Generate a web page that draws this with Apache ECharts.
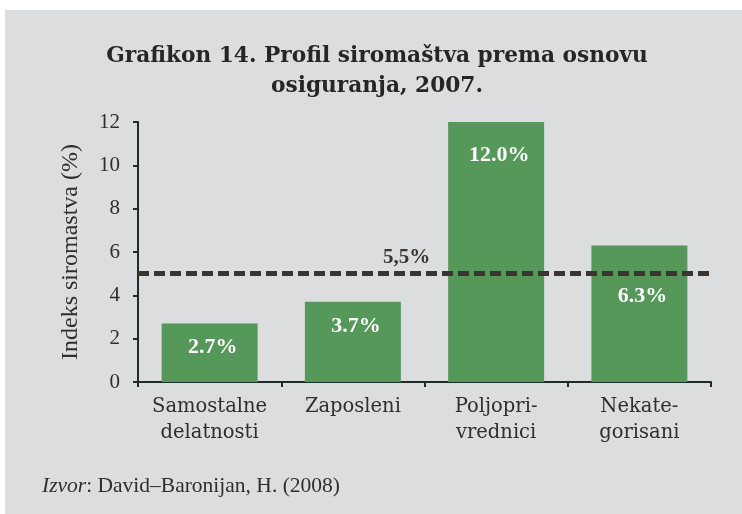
<!DOCTYPE html>
<html>
<head>
<meta charset="utf-8">
<script src="https://cdn.jsdelivr.net/npm/echarts@6/dist/echarts.min.js"></script>
<style>
html,body{margin:0;padding:0;background:#ffffff;}
#chart{width:742px;height:514px;}
</style>
</head>
<body>
<div id="chart"></div>
<script>
const categories = ['Samostalne\ndelatnosti', 'Zaposleni', 'Poljopri-\nvrednici', 'Nekate-\ngorisani'];
const values = [2.7, 3.7, 12.0, 6.3];
const valueLabels = ['2.7%', '3.7%', '12.0%', '6.3%'];
const referenceValue = 5.0;
const referenceLabel = '5,5%';
const yTicks = [0, 2, 4, 6, 8, 10, 12];
const titleText = 'Grafikon 14. Profil siromaštva prema osnovu\nosiguranja, 2007.';
const yAxisName = 'Indeks siromastva (%)';

const labelDistance = [13, 13, 22, 40];
const dark = '#2b2f2e';
const serif = 'DejaVu Serif';
const times = 'Liberation Serif';

const chart = echarts.init(document.getElementById('chart'));
chart.setOption({
  backgroundColor: '#ffffff',
  animation: false,
  graphic: [
    { type: 'rect', z: -100, shape: { x: 5, y: 10, width: 737, height: 504 }, style: { fill: '#dcdddf' } },
    { type: 'text', left: 42, top: 475, style: {
        rich: { i: { fontFamily: times, fontStyle: 'italic', fontSize: 21.5, fill: dark },
                n: { fontFamily: times, fontSize: 21.5, fill: dark } },
        text: '{i|Izvor}{n|: David–Baronijan, H. (2008)}' } }
  ],
  title: {
    text: titleText,
    left: 372, top: 36, textAlign: 'center',
    textStyle: { fontFamily: serif, fontWeight: 'bold', fontSize: 21.7, lineHeight: 30, color: '#262626' }
  },
  grid: { left: 138, right: 31, top: 122, bottom: 132 },
  xAxis: {
    type: 'category',
    data: categories,
    axisLine: { lineStyle: { color: '#1f2a2a', width: 2 } },
    axisTick: { show: true, interval: 0, length: 5, lineStyle: { color: '#1f2a2a', width: 2 } },
    axisLabel: { interval: 0, margin: 12, fontFamily: serif, fontSize: 19.5, lineHeight: 26, color: dark }
  },
  yAxis: {
    type: 'value',
    min: yTicks[0], max: yTicks[yTicks.length - 1], interval: 2,
    name: yAxisName, nameLocation: 'middle', nameGap: 55, nameRotate: 90,
    nameTextStyle: { fontFamily: times, fontSize: 24, color: dark },
    splitLine: { show: false },
    axisLine: { show: true, lineStyle: { color: '#1f2a2a', width: 2 } },
    axisTick: { show: true, length: 5, lineStyle: { color: '#1f2a2a', width: 2 } },
    axisLabel: { margin: 18, fontFamily: times, fontSize: 21, color: dark }
  },
  series: [{
    type: 'bar',
    barWidth: '67%',
    itemStyle: { color: '#55985a' },
    data: values.map((v, i) => ({
      value: v,
      label: { show: true, position: 'insideTop', distance: labelDistance[i], offset: [3, 0],
        formatter: valueLabels[i], fontFamily: times, fontWeight: 'bold', fontSize: 22, color: '#ffffff' }
    })),
    markLine: {
      symbol: 'none', silent: true,
      lineStyle: { type: [11, 5], color: '#3a3530', width: 5 },
      label: { show: true, position: 'insideStartTop', distance: [245, 6], formatter: referenceLabel,
        fontFamily: times, fontWeight: 'bold', fontSize: 21, color: '#3a3530' },
      data: [{ yAxis: referenceValue }]
    }
  }]
});
</script>
</body>
</html>
